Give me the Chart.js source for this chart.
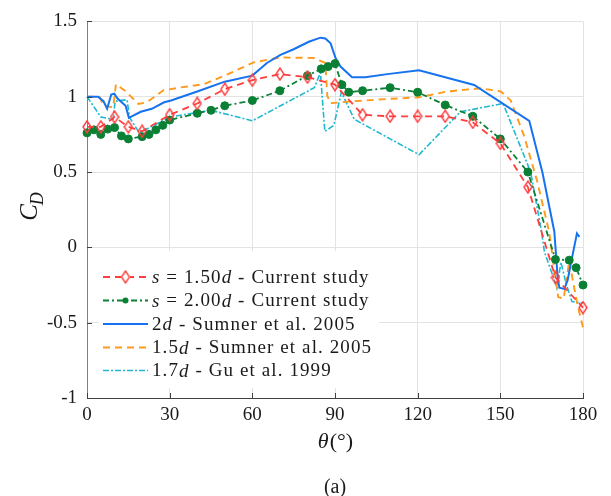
<!DOCTYPE html>
<html><head><meta charset="utf-8">
<script src="https://cdn.jsdelivr.net/npm/chart.js@4.4.1/dist/chart.umd.min.js"></script>
<style>html,body{margin:0;padding:0;background:#fff}#wrap{width:611px;height:496px;position:relative}</style>
</head><body><div id="wrap"><canvas id="c" width="611" height="496"></canvas></div>
<script>
// ---- data ----
const theta150 = [0,5,10,15,20,30,40,50,60,70,80,90,100,110,120,130,140,150,160,170,180];
const cd150    = [0.80,0.80,0.865,0.80,0.77,0.88,0.955,1.05,1.11,1.15,1.13,1.08,0.88,0.87,0.87,0.87,0.83,0.69,0.40,-0.20,-0.40];

const theta200 = [0,2.5,5,7.5,10,12.5,15,20,22.5,25,27.5,30,40,45,50,60,70,80,85,87.5,90,92.5,95,100,110,120,130,140,150,160,170,175,177.5,180];
const cd200    = [0.76,0.78,0.75,0.785,0.795,0.74,0.72,0.735,0.75,0.78,0.81,0.845,0.89,0.91,0.94,0.975,1.04,1.14,1.185,1.20,1.22,1.08,1.03,1.04,1.06,1.03,0.945,0.87,0.72,0.50,-0.08,-0.085,-0.135,-0.25];

const thetaSumner2 = [0,4,6,7.3,8.8,9.9,11,14,15.2,19.5,23.5,28,30.5,40,50,60,65.3,70.2,75,80.5,84.7,86.5,88.4,90.2,92,96.2,101,109,120.5,140.5,160.5,165.3,169.6,170.8,171.4,173.2,174.4,175.9,177.8,178.7];
const cdSumner2    = [1.0,1.0,0.97,0.92,1.015,1.02,0.99,0.94,0.86,0.90,0.92,0.963,0.975,1.035,1.10,1.14,1.224,1.278,1.315,1.365,1.392,1.387,1.354,1.257,1.20,1.13,1.13,1.15,1.175,1.078,0.84,0.495,0.104,-0.20,-0.268,-0.276,-0.22,-0.08,0.093,0.07];

const thetaSumner15 = [0,4.5,6,9.5,10.5,13.8,18.7,21.7,27.8,33.8,42.3,49.6,60.5,70.2,82.3,86.5,87.2,88.4,96.8,109,120.5,130.8,142.9,150.2,153.8,158.7,163.5,167.7,171,173,175,178,180];
const cdSumner15    = [1.0,1.0,0.94,0.93,1.083,1.04,0.952,0.963,1.043,1.061,1.083,1.137,1.228,1.261,1.257,1.224,1.006,0.957,0.97,0.985,0.996,1.035,1.056,1.035,0.974,0.735,0.43,0.104,-0.33,-0.34,-0.09,-0.385,-0.53];

const thetaGu = [0,3,5,9.5,10.2,14.5,15.5,19,30,45,60,82.5,84.7,86.3,89.6,92.3,97,120.5,135.5,151,161,165,166,168.5,170.5,172,174,176,180];
const cdGu    = [1.0,0.92,0.865,0.85,0.97,0.98,0.86,0.76,0.865,0.91,0.84,1.06,1.16,0.77,0.81,1.03,0.85,0.615,0.90,0.955,0.50,0.10,-0.03,-0.16,-0.27,-0.10,-0.25,-0.36,-0.37];

const xTicks = [0,30,60,90,120,150,180];
const yTicks = [-1,-0.5,0,0.5,1,1.5];

const legendLabels = [
  [{t:'s',i:1},{t:' = 1.50'},{t:'d',i:1},{t:' - Current study'}],
  [{t:'s',i:1},{t:' = 2.00'},{t:'d',i:1},{t:' - Current study'}],
  [{t:'2'},{t:'d',i:1},{t:' - Sumner et al. 2005'}],
  [{t:'1.5'},{t:'d',i:1},{t:' - Sumner et al. 2005'}],
  [{t:'1.7'},{t:'d',i:1},{t:' - Gu et al. 1999'}]
];

// ---- helpers ----
const SERIF = '"Liberation Serif","Times New Roman",serif';
const pts = (xs, ys) => xs.map((x, k) => ({x, y: ys[k]}));
const RED = '#ff3d3d', GREEN = '#0a8035', BLUE = '#1672ef', ORANGE = '#ff9a1a', CYAN = '#1fb8cf';

function diamondImg(color){
  const c = document.createElement('canvas');
  c.width = 10; c.height = 14;
  const g = c.getContext('2d');
  g.strokeStyle = color; g.lineWidth = 1.4;
  g.beginPath(); g.moveTo(5,1); g.lineTo(9,7); g.lineTo(5,13); g.lineTo(1,7); g.closePath();
  g.stroke();
  return c;
}
const diamond = diamondImg(RED);

const datasets = [
  {label:'s150', data:pts(theta150,cd150), borderColor:RED, borderWidth:1.8, borderDash:[7,5],
   pointStyle:diamond, pointRadius:5, showLine:true, clip:false},
  {label:'s200', data:pts(theta200,cd200), borderColor:GREEN, backgroundColor:GREEN, borderWidth:1.8, borderDash:[6,3,2,3],
   pointStyle:'circle', pointRadius:4, pointBorderWidth:1, showLine:true, clip:false},
  {label:'sumner2', data:pts(thetaSumner2,cdSumner2), borderColor:BLUE, borderWidth:2, pointRadius:0, showLine:true, clip:false},
  {label:'sumner15', data:pts(thetaSumner15,cdSumner15), borderColor:ORANGE, borderWidth:1.9, borderDash:[7,5], pointRadius:0, showLine:true, clip:false},
  {label:'gu', data:pts(thetaGu,cdGu), borderColor:CYAN, borderWidth:1.6, borderDash:[6,2,2,2], pointRadius:0, showLine:true, clip:false}
];

const overlay = {
  id:'overlay',
  afterDatasetsDraw(chart){
    const ctx = chart.ctx;
    const ds = chart.data.datasets;
    // legend box
    ctx.save();
    ctx.fillStyle = '#fff';
    ctx.fillRect(99, 251, 280, 137);
    const rowY = [277, 300.5, 324, 347.5, 370.5];
    legendLabels.forEach((segs, r) => {
      const d = ds[r], y = rowY[r];
      ctx.save();
      ctx.strokeStyle = d.borderColor; ctx.lineWidth = d.borderWidth;
      ctx.setLineDash(d.borderDash || []);
      ctx.beginPath(); ctx.moveTo(103, y); ctx.lineTo(148, y); ctx.stroke();
      ctx.restore();
      if (r === 0) { ctx.fillStyle = '#fff'; ctx.fillRect(121, y-6, 9, 12); ctx.drawImage(diamond, 125.5-5, y-7); }
      if (r === 1) { ctx.fillStyle = GREEN; ctx.beginPath(); ctx.arc(125.5, y, 3, 0, Math.PI*2); ctx.fill(); }
      let x = 152;
      ctx.fillStyle = '#1a1a1a'; ctx.textBaseline = 'middle'; ctx.textAlign = 'left';
      ctx.letterSpacing = '1.1px';
      segs.forEach(s => {
        ctx.font = (s.i ? 'italic ' : '') + '19px ' + SERIF;
        ctx.fillText(s.t, x, y + 1);
        x += ctx.measureText(s.t).width;
      });
      ctx.letterSpacing = '0px';
    });
    ctx.restore();
  },
  afterDraw(chart){
    const ctx = chart.ctx, a = chart.chartArea;
    const xs = chart.scales.x, ys = chart.scales.y;
    ctx.save();
    // inward ticks
    ctx.strokeStyle = '#404040'; ctx.lineWidth = 1;
    xTicks.forEach(v => { const px = Math.round(xs.getPixelForValue(v)) + 0.5;
      ctx.beginPath(); ctx.moveTo(px, a.bottom); ctx.lineTo(px, a.bottom - 5); ctx.stroke(); });
    yTicks.forEach(v => { const py = Math.round(ys.getPixelForValue(v)) + 0.5;
      ctx.beginPath(); ctx.moveTo(a.left, py); ctx.lineTo(a.left + 5, py); ctx.stroke(); });
    // axis titles
    ctx.fillStyle = '#1a1a1a';
    ctx.textBaseline = 'alphabetic';
    // C_D rotated
    ctx.save();
    ctx.translate(37, 206);
    ctx.rotate(-Math.PI/2);
    ctx.font = 'italic 25px ' + SERIF;
    const wC = ctx.measureText('C').width;
    ctx.font = 'italic 18px ' + SERIF;
    const wD = ctx.measureText('D').width;
    let sx = -(wC + wD) / 2;
    ctx.font = 'italic 25px ' + SERIF; ctx.textAlign = 'left';
    ctx.fillText('C', sx, 0);
    ctx.font = 'italic 18px ' + SERIF;
    ctx.fillText('D', sx + wC - 1, 6);
    ctx.restore();
    // theta label
    ctx.font = 'italic 22px ' + SERIF;
    const wt = ctx.measureText('θ').width;
    ctx.font = '22px ' + SERIF;
    const wp = ctx.measureText('(°)').width;
    let tx = 335 - (wt + wp) / 2;
    ctx.textAlign = 'left';
    ctx.font = 'italic 22px ' + SERIF; ctx.fillText('θ', tx, 448);
    ctx.font = '22px ' + SERIF; ctx.fillText('(°)', tx + wt + 1, 448);
    // (a)
    ctx.font = '20px ' + SERIF; ctx.textAlign = 'center';
    ctx.fillText('(a)', 335, 493);
    ctx.restore();
  }
};

new Chart(document.getElementById('c'), {
  type:'scatter',
  data:{datasets},
  options:{
    responsive:false, animation:false, devicePixelRatio:1,
    layout:{padding:{left:0, right:28, top:16, bottom:0}},
    elements:{line:{tension:0}},
    plugins:{legend:{display:false}, tooltip:{enabled:false}},
    scales:{
      x:{type:'linear', min:0, max:180,
         afterBuildTicks(s){ s.ticks = xTicks.map(v => ({value:v})); },
         ticks:{font:{family:SERIF, size:19}, color:'#1a1a1a', padding:6, maxRotation:0, callback:v => String(v)},
         grid:{color:'#e3e3e3', drawTicks:false, lineWidth:1},
         border:{color:'#404040', width:1},
         afterFit(s){ s.height = 98; }},
      y:{type:'linear', min:-1, max:1.5,
         afterBuildTicks(s){ s.ticks = yTicks.map(v => ({value:v})); },
         ticks:{font:{family:SERIF, size:19}, color:'#1a1a1a', padding:10, callback:v => String(v)},
         grid:{color:'#e3e3e3', drawTicks:false, lineWidth:1},
         border:{color:'#808080', width:1},
         afterFit(s){ s.width = 87; }}
    }
  },
  plugins:[overlay]
});
</script></body></html>
